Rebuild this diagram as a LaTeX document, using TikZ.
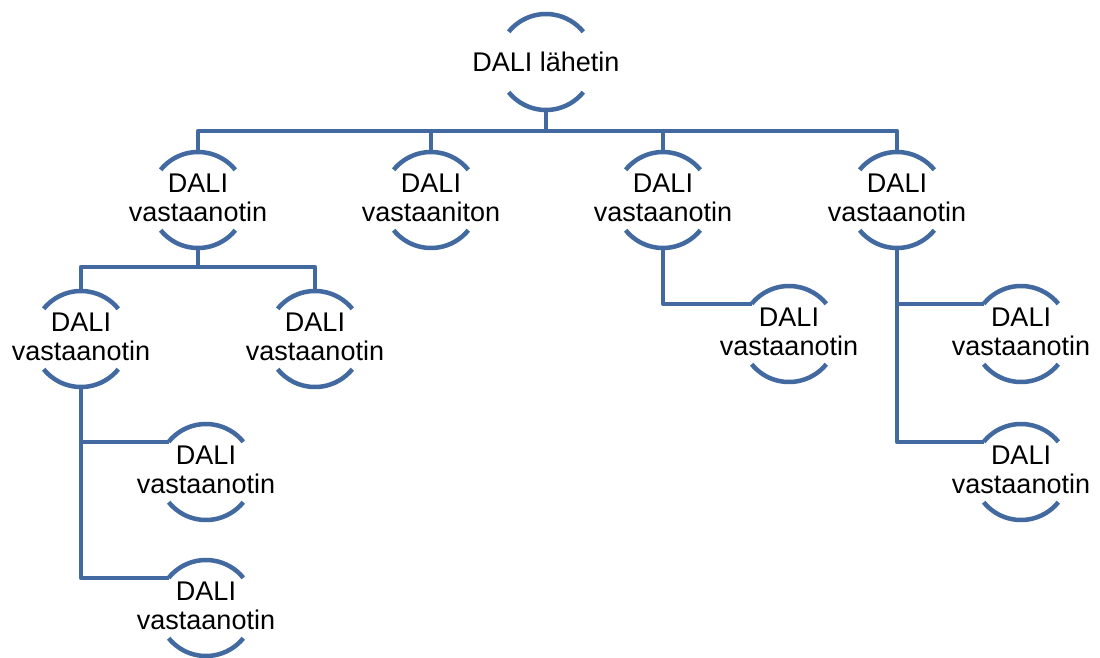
\documentclass[tikz,border=0pt]{standalone}
\usepackage{fontspec}
\setmainfont{Liberation Sans}
\usepackage{tikz}
\usetikzlibrary{calc}
\definecolor{dalibl}{RGB}{66,106,160}

\begin{document}
\begin{tikzpicture}[
  x=1pt, y=-1pt,
  dali/.style={align=center, inner sep=0pt, text depth=4pt,
    font=\fontsize{27}{29}\selectfont},
  ring/.style={draw=dalibl, line width=4.5pt},
  link/.style={draw=dalibl, line width=4.5pt, line join=round}
]
\useasboundingbox (0,0) rectangle (1100,657);

% Root
\node[dali, text depth=0pt] (root) at (546,62) {DALI lähetin};

% Level 1
\node[dali] (a) at (198,200) {DALI\\vastaanotin};
\node[dali] (b) at (431,200) {DALI\\vastaaniton};
\node[dali] (c) at (663,200) {DALI\\vastaanotin};
\node[dali] (d) at (897,200) {DALI\\vastaanotin};

% Level 2
\node[dali] (a1) at (81,339) {DALI\\vastaanotin};
\node[dali] (a2) at (315,339) {DALI\\vastaanotin};
\node[dali] (c1) at (789,334) {DALI\\vastaanotin};
\node[dali] (d1) at (1021,334) {DALI\\vastaanotin};
\node[dali] (d2) at (1021,472) {DALI\\vastaanotin};

% Level 3
\node[dali] (a11) at (206,472) {DALI\\vastaanotin};
\node[dali] (a12) at (206,608) {DALI\\vastaanotin};

% Rings
\foreach \n in {root,a,b,c,d,a1,a2,c1,d1,d2,a11,a12} {
  \draw[ring] (\n.center) ++(141:48pt) arc[start angle=141, end angle=39, radius=48pt];
  \draw[ring] (\n.center) ++(-141:48pt) arc[start angle=-141, end angle=-39, radius=48pt];
  \coordinate (\n-top) at ($(\n.center)+(0,-48)$);
  \coordinate (\n-bot) at ($(\n.center)+(0,48)$);
  \coordinate (\n-left) at ($(\n.center)+(141:48pt)$);
}

% Connectors
\foreach \c in {a,b,c,d}
  \draw[link] (root-bot) -- ++(0,21) -| (\c-top);
\foreach \c in {a1,a2}
  \draw[link] (a-bot) -- ++(0,19) -| (\c-top);
\foreach \c in {a11,a12}
  \draw[link] (a1-bot) |- (\c-left);
\draw[link] (c-bot) |- (c1-left);
\foreach \c in {d1,d2}
  \draw[link] (d-bot) |- (\c-left);

\end{tikzpicture}
\end{document}
